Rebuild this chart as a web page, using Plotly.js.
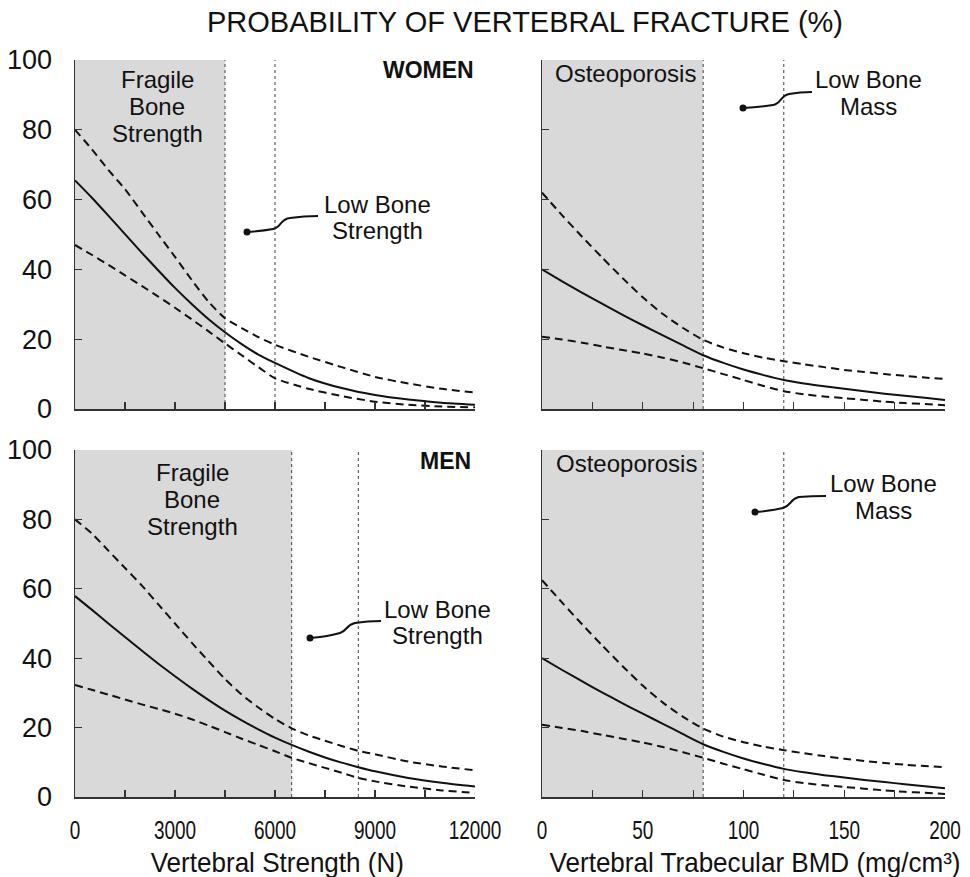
<!DOCTYPE html>
<html>
<head>
<meta charset="utf-8">
<script src="https://cdn.plot.ly/plotly-3.0.1.min.js"></script>
<style>html,body{margin:0;padding:0;background:#fff;}#chart{width:970px;height:877px;}</style>
</head>
<body>
<div id="chart"></div>
<script>
// ---------------- DATA ----------------
const strengthWomenX = [0,500,1000,1500,2000,2500,3000,3500,4000,4500,5000,5500,6000,7000,8000,9000,10000,11000,12000];
const strengthWomenMid   = [65.5,60.6,55.4,50.1,44.8,39.7,34.7,30.1,25.8,22.0,18.6,15.6,13.2,8.9,6.0,4.0,2.7,1.8,1.2];
const strengthWomenUpper = [80,74.5,68.5,63,56.5,50,43.6,37,30.8,26,23.2,20.6,18.4,15,12,9.2,7.3,5.8,4.7];
const strengthWomenLower = [47,44.2,41.3,38.3,35.3,32.2,29,25.7,22.3,18.8,15.4,12,8.8,5.8,3.7,2.1,1.2,0.7,0.5];

const strengthMenX = [0,500,1000,1500,2000,2500,3000,3500,4000,4500,5000,5500,6000,6500,7000,7500,8000,8500,9000,10000,11000,12000];
const strengthMenMid   = [57.9,54.0,50.0,46.1,42.2,38.4,34.8,31.3,28.0,24.9,22.1,19.5,17.1,15.0,13.1,11.4,9.9,8.6,7.4,5.5,4.1,3.0];
const strengthMenUpper = [80,76,71,66,61,55.5,50,44.5,39.2,34,29.5,25.8,22.5,19.8,17.8,16.2,14.7,13.3,12.3,10.2,8.8,7.7];
const strengthMenLower = [32.3,30.9,29.5,28.1,26.7,25.4,24,22.4,20.6,18.7,16.8,15,13.2,11.3,9.8,8.4,7,5.5,4.5,3.0,1.9,1.2];

const bmdX = [0,10,20,30,40,50,60,70,80,90,100,110,120,130,140,150,160,170,180,190,200];
const bmdWomenMid   = [40,36.6,33.3,30.1,27,24,21.1,18.2,15.4,13.2,11.3,9.7,8.3,7.3,6.5,5.8,5.1,4.4,3.8,3.2,2.6];
const bmdWomenUpper = [62,55.5,49.3,43.3,37.5,32,27.2,23.2,19.8,17.6,16,14.7,13.7,12.8,12,11.2,10.6,10,9.5,9,8.6];
const bmdWomenLower = [20.7,19.9,19,17.9,16.9,15.9,14.7,13.3,11.7,10,8.3,6.6,5.1,4.2,3.6,3.1,2.6,2.1,1.7,1.4,1.1];
const bmdMenMid   = [40,36.6,33.3,30.1,27,24,21.1,18.1,15.2,13,11.1,9.5,8.1,7.1,6.3,5.6,4.9,4.3,3.7,3.1,2.5];
const bmdMenUpper = [62.5,56,49.7,43.6,37.7,32.1,27.2,23.1,19.7,17.4,15.8,14.5,13.5,12.6,11.8,11,10.4,9.8,9.3,8.9,8.6];
const bmdMenLower = [20.8,19.9,19,17.9,16.8,15.7,14.4,12.9,11.3,9.6,8,6.4,4.9,4,3.4,2.9,2.4,1.9,1.5,1.2,0.9];

// thresholds: [end of shaded zone, second dotted line]
const womenStrengthCuts = [4500, 6000];
const menStrengthCuts   = [6500, 8500];
const bmdCuts           = [80, 120];

const strengthTicks = [0,3000,6000,9000,12000];
const bmdTicks = [0,50,100,150,200];
const probTicks = [0,20,40,60,80,100];

const mainTitle = 'PROBABILITY OF VERTEBRAL FRACTURE (%)';
const strengthTitle = 'Vertebral Strength (N)';
const bmdTitle = 'Vertebral Trabecular BMD (mg/cm³)';

// ---------------- LAYOUT HELPERS ----------------
const W = 970, H = 877;
const px = v => v / W;
const py = v => 1 - v / H;
const FONT = 'Liberation Sans, Arial, Helvetica, sans-serif';
const DASH = '8px,5px';

function curve(x, y, xa, ya, dashed) {
  return {
    x: x, y: y, xaxis: xa, yaxis: ya, type: 'scatter', mode: 'lines',
    line: {color: '#111', width: 2, dash: dashed ? DASH : 'solid', shape: 'spline', smoothing: 0.6},
    hoverinfo: 'skip', showlegend: false
  };
}

const traces = [
  curve(strengthWomenX, strengthWomenUpper, 'x', 'y', true),
  curve(strengthWomenX, strengthWomenMid, 'x', 'y', false),
  curve(strengthWomenX, strengthWomenLower, 'x', 'y', true),
  curve(bmdX, bmdWomenUpper, 'x2', 'y2', true),
  curve(bmdX, bmdWomenMid, 'x2', 'y2', false),
  curve(bmdX, bmdWomenLower, 'x2', 'y2', true),
  curve(strengthMenX, strengthMenUpper, 'x3', 'y3', true),
  curve(strengthMenX, strengthMenMid, 'x3', 'y3', false),
  curve(strengthMenX, strengthMenLower, 'x3', 'y3', true),
  curve(bmdX, bmdMenUpper, 'x4', 'y4', true),
  curve(bmdX, bmdMenMid, 'x4', 'y4', false),
  curve(bmdX, bmdMenLower, 'x4', 'y4', true)
];

const axisLine = {showline: true, linecolor: '#333', linewidth: 1.5, ticks: 'inside', ticklen: 7,
  tickwidth: 1.2, tickcolor: '#333', showgrid: false, zeroline: false, fixedrange: true};

function xAxis(domain, anchor, range, ticks, minorStep, showLabels) {
  return Object.assign({}, axisLine, {
    domain: domain, anchor: anchor, range: range,
    tickmode: 'array', tickvals: ticks, ticktext: ticks.map(String),
    showticklabels: showLabels, ticklabelstandoff: 9, ticklabeloverflow: 'allow',
    tickfont: {family: FONT, size: 26, color: '#111'},
    minor: {dtick: minorStep, tick0: 0, ticks: 'inside', ticklen: 7, tickwidth: 1.2, tickcolor: '#333'}
  });
}
function yAxis(domain, anchor, showLabels) {
  return Object.assign({}, axisLine, {
    domain: domain, anchor: anchor, range: [0, 100],
    tickmode: 'array', tickvals: probTicks, ticktext: probTicks.map(String),
    showticklabels: showLabels, ticklabelstandoff: 16, ticklabeloverflow: 'allow',
    tickfont: {family: FONT, size: 27, color: '#111'}
  });
}

const leftDom = [px(75), px(475)], rightDom = [px(542), px(945)];
const topDom = [py(409), py(60)], botDom = [py(797), py(450)];

function zoneShapes(xa, ya, cuts) {
  return [
    {type: 'rect', xref: xa, yref: ya, x0: 0, x1: cuts[0], y0: 0, y1: 100,
      fillcolor: '#d9d9d9', line: {width: 0}, layer: 'below'},
    {type: 'line', xref: xa, yref: ya, x0: cuts[0], x1: cuts[0], y0: 0, y1: 100,
      line: {color: '#444', width: 1, dash: 'dot'}, layer: 'below'},
    {type: 'line', xref: xa, yref: ya, x0: cuts[1], x1: cuts[1], y0: 0, y1: 100,
      line: {color: '#444', width: 1, dash: 'dot'}, layer: 'below'}
  ];
}

// leader lines (pixel coordinates converted to paper)
function leader(cmds) {
  let s = '';
  cmds.forEach(c => {
    s += c[0] + ' ';
    for (let i = 1; i < c.length; i += 2) s += px(c[i]).toFixed(5) + ',' + py(c[i + 1]).toFixed(5) + ' ';
  });
  return {type: 'path', xref: 'paper', yref: 'paper', path: s.trim(), line: {color: '#111', width: 2}};
}
function dot(x, y) {
  return {type: 'circle', xref: 'paper', yref: 'paper', xsizemode: 'pixel', ysizemode: 'pixel',
    xanchor: px(x), yanchor: py(y), x0: -3.5, x1: 3.5, y0: -3.5, y1: 3.5,
    fillcolor: '#111', line: {color: '#111', width: 0}};
}

const shapes = [].concat(
  zoneShapes('x', 'y', womenStrengthCuts),
  zoneShapes('x2', 'y2', bmdCuts),
  zoneShapes('x3', 'y3', menStrengthCuts),
  zoneShapes('x4', 'y4', bmdCuts),
  [
    leader([['M',247,232],['Q',262,231,273,229],['C',281,228,280,219,290,218],['Q',304,216,318,216]]),
    dot(247,232),
    leader([['M',743,108],['Q',760,107,773,105],['C',781,104,780,96,789,94],['Q',800,92,812,92]]),
    dot(743,108),
    leader([['M',310,638],['Q',326,637,340,633],['C',347,631,346,625,355,623],['Q',367,621,381,621]]),
    dot(310,638),
    leader([['M',755,512],['Q',770,511,783,508],['C',791,506,790,499,799,497],['Q',811,496,826,496]]),
    dot(755,512)
  ]
);

function label(text, x, y, size, bold) {
  return {text: bold ? '<b>' + text + '</b>' : text, xref: 'paper', yref: 'paper',
    x: px(x), y: py(y), xanchor: 'center', yanchor: 'middle', showarrow: false,
    font: {family: FONT, size: size, color: '#111'}};
}

const LS = 24;
const annotations = [
  label('WOMEN', 428, 70, 23, true),
  label('MEN', 445, 461, 23, true),
  label('Fragile', 157, 79, LS), label('Bone', 157, 106, LS), label('Strength', 157, 133, LS),
  label('Low Bone', 377, 204, LS), label('Strength', 377, 230, LS),
  label('Osteoporosis', 625, 73, LS),
  label('Low Bone', 868, 80, LS), label('Mass', 868, 106, LS),
  label('Fragile', 192, 472, LS), label('Bone', 192, 499, LS), label('Strength', 192, 526, LS),
  label('Low Bone', 437, 609, LS), label('Strength', 437, 635, LS),
  label('Osteoporosis', 626, 463, LS),
  label('Low Bone', 883, 483, LS), label('Mass', 883, 510, LS),
  {text: strengthTitle, xref: 'paper', yref: 'paper', x: px(277), y: py(863), xanchor: 'center', yanchor: 'middle',
    showarrow: false, font: {family: FONT, size: 27, color: '#111'}},
  {text: bmdTitle, xref: 'paper', yref: 'paper', x: px(755), y: py(863), xanchor: 'center', yanchor: 'middle',
    showarrow: false, font: {family: FONT, size: 27, color: '#111'}}
];

const layout = {
  width: W, height: H,
  margin: {l: 0, r: 0, t: 0, b: 0},
  paper_bgcolor: '#fff', plot_bgcolor: 'rgba(0,0,0,0)',
  showlegend: false,
  title: {text: mainTitle, x: px(525), xref: 'paper', xanchor: 'center', y: py(22), yref: 'paper', yanchor: 'middle',
    font: {family: FONT, size: 29, color: '#111'}},
  xaxis:  xAxis(leftDom, 'y', [0, 12000], strengthTicks, 1500, false),
  yaxis:  yAxis(topDom, 'x', true),
  xaxis2: xAxis(rightDom, 'y2', [0, 200], bmdTicks, 25, false),
  yaxis2: yAxis(topDom, 'x2', false),
  xaxis3: xAxis(leftDom, 'y3', [0, 12000], strengthTicks, 1500, true),
  yaxis3: yAxis(botDom, 'x3', true),
  xaxis4: xAxis(rightDom, 'y4', [0, 200], bmdTicks, 25, true),
  yaxis4: yAxis(botDom, 'x4', false),
  shapes: shapes,
  annotations: annotations
};

// horizontally condense a text element about its own centre (the bottom labels are narrow in the original)
function condense(el, s) {
  const b = el.getBBox();
  const cx = b.x + b.width / 2;
  const tr = el.getAttribute('transform') || '';
  el.setAttribute('transform', tr + ' translate(' + cx + ',0) scale(' + s + ',1) translate(' + (-cx) + ',0)');
}

Plotly.newPlot('chart', traces, layout, {displayModeBar: false, staticPlot: true}).then(gd => {
  gd.querySelectorAll('.x3tick text, .x4tick text').forEach(t => condense(t, 0.73));
  gd.querySelectorAll('.annotation-text').forEach(t => {
    if (t.textContent === strengthTitle || t.textContent === bmdTitle) condense(t, 0.965);
  });
});
</script>
</body>
</html>
